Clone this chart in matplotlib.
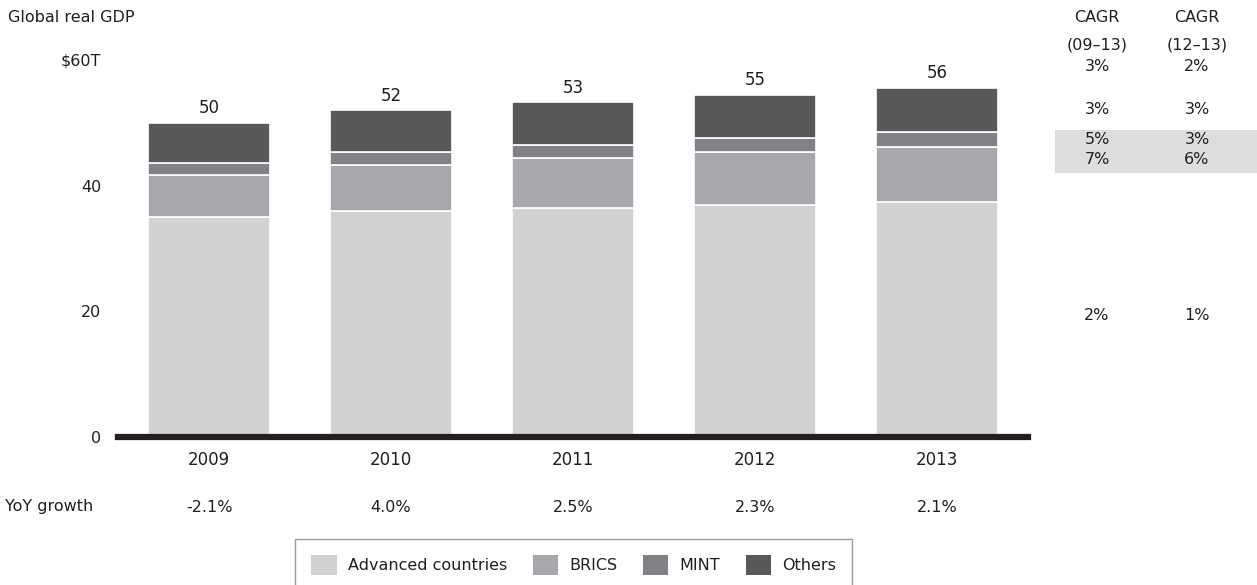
import matplotlib
matplotlib.use("Agg")
import matplotlib.pyplot as plt
from matplotlib.patches import Rectangle, Patch
from matplotlib.transforms import blended_transform_factory

years = ["2009", "2010", "2011", "2012", "2013"]
advanced = [35.0, 36.0, 36.4, 36.9, 37.4]
brics = [6.7, 7.3, 8.0, 8.4, 8.7]
mint = [1.9, 2.0, 2.1, 2.3, 2.5]
others = [6.4, 6.7, 6.8, 6.9, 7.0]
totals = ["50", "52", "53", "55", "56"]
yoy = ["-2.1%", "4.0%", "2.5%", "2.3%", "2.1%"]

series_names = ["Advanced countries", "BRICS", "MINT", "Others"]
colors = ["#d1d2d4", "#a7a8ab", "#808285", "#58595b"]

# CAGR table: (09-13), (12-13) for total, others, MINT, BRICS, advanced
cagr_0913 = ["3%", "3%", "5%", "7%", "2%"]
cagr_1213 = ["2%", "3%", "3%", "6%", "1%"]
cagr_rows_y = [58.9, 52.1, 47.3, 44.1, 19.4]

TEXT = "#231f20"
plt.rcParams["font.family"] = ["DejaVu Sans"]
plt.rcParams["font.size"] = 11.5
plt.rcParams["text.color"] = TEXT

W, H = 1257, 585
fig = plt.figure(figsize=(W / 100, H / 100), dpi=100)
ax = fig.add_axes([118 / W, (H - 437) / H, (1028 - 118) / W, (437 - 60) / H])

x = list(range(len(years)))
bottom = [0.0] * len(years)
for vals, name, col in zip([advanced, brics, mint, others], series_names, colors):
    ax.bar(x, vals, width=0.665, bottom=bottom, color=col, edgecolor="white",
           linewidth=1.2, label=name, zorder=2)
    bottom = [b + v for b, v in zip(bottom, vals)]

for xi, top, lab in zip(x, bottom, totals):
    ax.annotate(lab, (xi, top), xytext=(0, 4), textcoords="offset points",
                ha="center", va="bottom", fontsize=12)

for xi, lab in zip(x, yoy):
    ax.annotate(lab, (xi, 0), xytext=(0, -50.5), textcoords="offset points",
                ha="center", va="center", fontsize=11.5, annotation_clip=False)

ax.set_xlim(-0.5, 4.5)
ax.set_ylim(0, 60)
ax.set_yticks([0, 20, 40, 60])
ax.set_yticklabels(["0", "20", "40", "$60T"])
ax.set_xticks(x)
ax.set_xticklabels(years)
ax.tick_params(axis="y", length=0, pad=12, labelsize=11.5, labelcolor=TEXT)
ax.tick_params(axis="x", length=0, pad=10, labelsize=12, labelcolor=TEXT)
for side in ["top", "right", "left"]:
    ax.spines[side].set_visible(False)
ax.spines["bottom"].set_linewidth(4.5)
ax.spines["bottom"].set_color("#231f20")
ax.spines["bottom"].set_zorder(3)

fig.text(8 / W, 1 - 18 / H, "Global real GDP", ha="left", va="center", fontsize=11.5)
fig.text(5 / W, 1 - 507 / H, "YoY growth", ha="left", va="center", fontsize=11.5)

# CAGR columns
col1, col2 = 1097 / W, 1197 / W
tr = blended_transform_factory(fig.transFigure, ax.transData)
ax.add_patch(Rectangle((1055 / W, 42.0), (W - 1055) / W, 6.9, transform=tr,
                       facecolor="#dcdddf", edgecolor="none", zorder=0,
                       clip_on=False))
fig.text(col1, 1 - 17 / H, "CAGR", ha="center", va="center", fontsize=11.5)
fig.text(col2, 1 - 17 / H, "CAGR", ha="center", va="center", fontsize=11.5)
fig.text(col1, 1 - 45 / H, "(09\u201313)", ha="center", va="center", fontsize=11.5)
fig.text(col2, 1 - 45 / H, "(12\u201313)", ha="center", va="center", fontsize=11.5)
for yv, a, b in zip(cagr_rows_y, cagr_0913, cagr_1213):
    ax.text(col1, yv, a, transform=tr, ha="center", va="center", fontsize=11.5,
            clip_on=False, zorder=4)
    ax.text(col2, yv, b, transform=tr, ha="center", va="center", fontsize=11.5,
            clip_on=False, zorder=4)

handles = [Patch(facecolor=c, edgecolor="none") for c in colors]
leg = fig.legend(handles, series_names, loc="upper left",
                 bbox_to_anchor=(295 / W, 1 - 539 / H), ncol=4, frameon=True,
                 fancybox=False, edgecolor="#808285", fontsize=11.5,
                 handlelength=1.6, handleheight=1.6, handletextpad=0.7,
                 columnspacing=1.6, borderpad=1.0, borderaxespad=0)
leg.get_frame().set_linewidth(1.0)

fig.savefig("out.png", dpi=100)
